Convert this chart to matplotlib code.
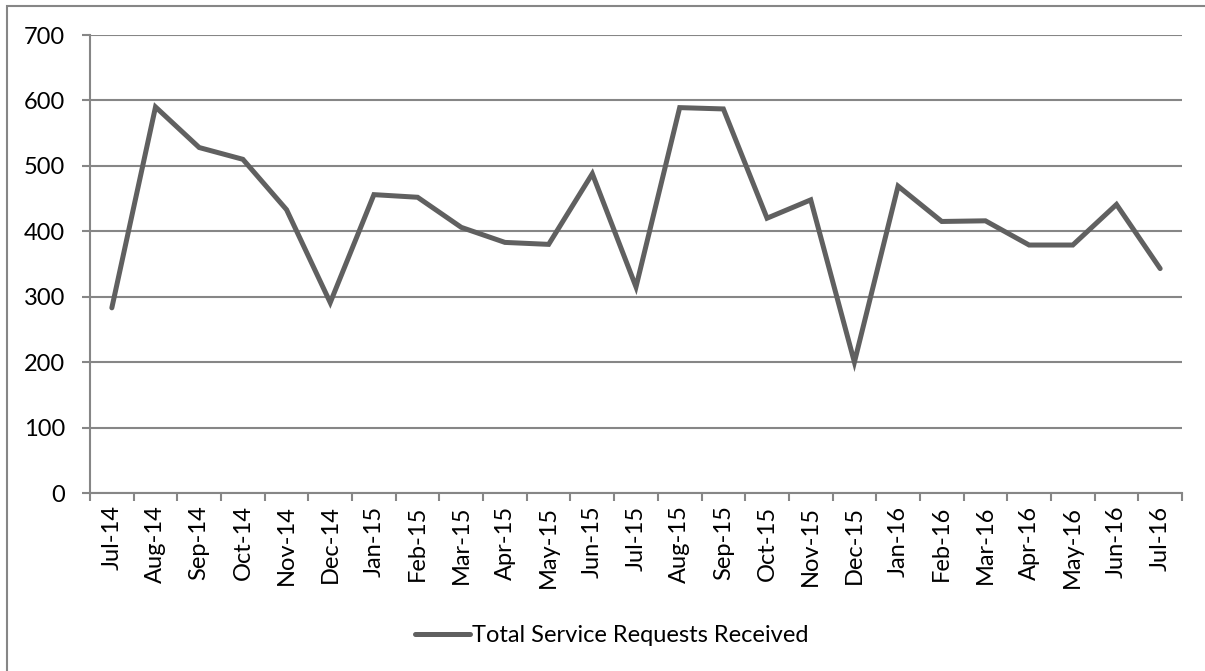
import matplotlib
matplotlib.use("Agg")
import matplotlib.pyplot as plt
from matplotlib.patches import Rectangle

months = ["Jul-14", "Aug-14", "Sep-14", "Oct-14", "Nov-14", "Dec-14", "Jan-15", "Feb-15",
          "Mar-15", "Apr-15", "May-15", "Jun-15", "Jul-15", "Aug-15", "Sep-15", "Oct-15",
          "Nov-15", "Dec-15", "Jan-16", "Feb-16", "Mar-16", "Apr-16", "May-16", "Jun-16",
          "Jul-16"]
requests = [283, 590, 528, 510, 433, 291, 456, 452, 406, 383, 380, 488, 315, 589, 587,
            420, 448, 200, 469, 415, 416, 379, 379, 441, 343]
series_name = "Total Service Requests Received"
y_ticks = [0, 100, 200, 300, 400, 500, 600, 700]

plt.rcParams['font.family'] = ['Lato', 'DejaVu Sans']
W, H = 1205, 671
fig = plt.figure(figsize=(W / 100, H / 100), dpi=100)
ax = fig.add_axes([90 / W, 1 - 493 / H, (1182 - 90) / W, (493 - 35) / H])

grid_c = "#868686"
line_c = "#606060"

x = list(range(len(months)))
ax.plot(x, requests, color=line_c, linewidth=3.6, solid_capstyle='round',
        solid_joinstyle='miter', label=series_name, zorder=3)

ax.set_xlim(-0.5, len(months) - 0.5)
ax.set_ylim(0, 700)
ax.set_yticks(y_ticks)
ax.set_yticklabels([str(v) for v in y_ticks])
ax.yaxis.grid(True, color=grid_c, linewidth=1.5)
ax.set_axisbelow(True)

ax.set_xticks([i - 0.5 for i in range(len(months) + 1)])
ax.set_xticklabels([])
ax.set_xticks(x, minor=True)
ax.set_xticklabels(months, minor=True, rotation=90)

for s in ['top', 'right']:
    ax.spines[s].set_visible(False)
for s in ['left', 'bottom']:
    ax.spines[s].set_color(grid_c)
    ax.spines[s].set_linewidth(1.5)

ax.tick_params(axis='y', length=6, width=1.5, color=grid_c, pad=12, labelsize=17, labelcolor='black')
ax.tick_params(axis='x', which='major', length=6, width=1.5, color=grid_c)
ax.tick_params(axis='x', which='minor', length=0, pad=9, labelsize=17, labelcolor='black')

leg = fig.legend(loc='center', bbox_to_anchor=(612 / W, 1 - 636 / H), frameon=False,
                 fontsize=17, handlelength=2.3, handletextpad=0.1, borderpad=0)

fig.patches.append(Rectangle((7 / W, -0.1), 1.2, 1 - 6 / H + 0.1, transform=fig.transFigure,
                             fill=False, edgecolor=grid_c, linewidth=1.5))

fig.savefig("out.png", dpi=100)
